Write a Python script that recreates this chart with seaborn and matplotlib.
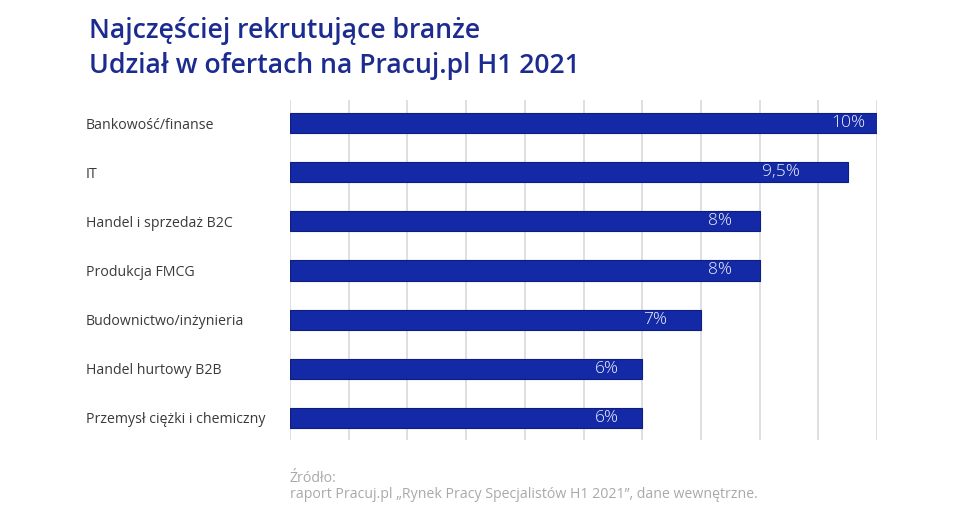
import matplotlib
matplotlib.use("Agg")
import matplotlib.pyplot as plt
import seaborn as sns
import pandas as pd

# ---- data ----
categories = [
    "Bankowość/finanse",
    "IT",
    "Handel i sprzedaż B2C",
    "Produkcja FMCG",
    "Budownictwo/inżynieria",
    "Handel hurtowy B2B",
    "Przemysł ciężki i chemiczny",
]
values = [10, 9.5, 8, 8, 7, 6, 6]
value_labels = ["10%", "9,5%", "8%", "8%", "7%", "6%", "6%"]
title_lines = ["Najczęściej rekrutujące branże", "Udział w ofertach na Pracuj.pl H1 2021"]
source_lines = ["Źródło:", "raport Pracuj.pl „Rynek Pracy Specjalistów H1 2021”, dane wewnętrzne."]

df = pd.DataFrame({"branza": categories, "udzial": values})

# ---- style ----
sns.set_style("white")
plt.rcParams["font.family"] = ["Open Sans", "DejaVu Sans"]

BAR = "#1429a6"
TITLE = "#1b2b8f"
TEXT = "#3a3a3a"
GRID = "#d9d9d9"

fig = plt.figure(figsize=(9.6, 5.17), dpi=100)
ax = fig.add_axes([290 / 960, 1 - 440 / 517, 587 / 960, 340 / 517])

sns.barplot(data=df, x="udzial", y="branza", orient="h", color=BAR,
            saturation=1, width=0.41, ax=ax, edgecolor="#0d1d80", linewidth=0.8)

ax.set_xlim(0, 10)
ax.set_ylim(6.45, -0.47)
ax.set_xticks(range(0, 11))
ax.set_xticklabels([])
ax.xaxis.grid(True, color=GRID, linewidth=1.2)
ax.set_axisbelow(True)
for s in ax.spines.values():
    s.set_visible(False)
ax.set_xlabel("")
ax.set_ylabel("")
ax.tick_params(axis="both", length=0)
ax.tick_params(axis="y", pad=147, labelsize=10.2, labelcolor=TEXT)
for lbl in ax.get_yticklabels():
    lbl.set_horizontalalignment("left")

# value labels inside bars
insets = [0.49, 1.14, 0.68, 0.68, 0.78, 0.60, 0.60]
for i, (v, t) in enumerate(zip(values, value_labels)):
    ax.text(v - insets[i], i, t, ha="center", va="center", color="#eef1fb",
            fontsize=12.5, fontweight="light")

# title
fig.text(89 / 960, 1 - 38 / 517, title_lines[0], fontsize=19.2, color=TITLE,
         fontweight="semibold", ha="left", va="baseline")
fig.text(89 / 960, 1 - 73 / 517, title_lines[1], fontsize=19.2, color=TITLE,
         fontweight="semibold", ha="left", va="baseline")

# source
fig.text(290 / 960, 1 - 482 / 517, source_lines[0], fontsize=10.2, color="#a9a9a9",
         ha="left", va="baseline")
fig.text(290 / 960, 1 - 498 / 517, source_lines[1], fontsize=10.2, color="#a9a9a9",
         ha="left", va="baseline")

fig.savefig("out.png", dpi=100, facecolor="white")
